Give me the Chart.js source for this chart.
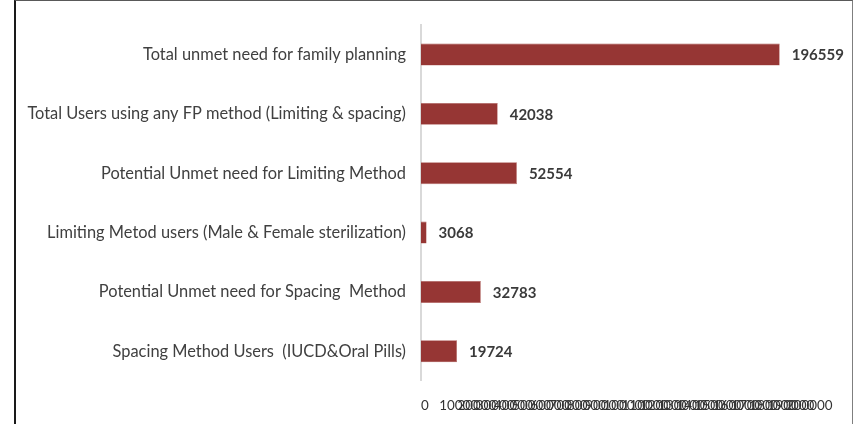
<!DOCTYPE html>
<html>
<head>
<meta charset="utf-8">
<script src="https://cdn.jsdelivr.net/npm/chart.js@4/dist/chart.umd.min.js"></script>
<style>
  html, body { margin: 0; padding: 0; background: #fff; }
  #wrap { position: relative; width: 853px; height: 424px; }
  #frame {
    position: absolute; left: 14px; top: 0; width: 836px; height: 430px;
    border-left: 2px solid #1a1a1a; border-top: 1px solid #595959; border-right: 1px solid #7f7f7f;
  }
  canvas { position: absolute; left: 0; top: 0; }
</style>
</head>
<body>
<div id="wrap">
  <div id="frame"></div>
  <canvas id="chart" width="853" height="424"></canvas>
</div>
<script>
// categories, top to bottom
const categories = [
    "Total unmet need for family planning",
    "Total Users using any FP method (Limiting & spacing)",
    "Potential Unmet need for Limiting Method",
    "Limiting Metod users (Male & Female sterilization)",
    "Potential Unmet need for Spacing  Method",
    "Spacing Method Users  (IUCD&Oral Pills)"
]
const values = [196559, 42038, 52554, 3068, 32783, 19724]
// x tick labels (they overlap in the original, too)
const xTicks = [0, 10000, 20000, 30000, 40000, 50000, 60000, 70000, 80000, 90000, 100000,
    110000, 120000, 130000, 140000, 150000, 160000, 170000, 180000, 190000, 200000]

const barColor = '#963634'
const fontName = 'Lato, "Open Sans", sans-serif'

// draws the bold value next to each bar
const valueLabels = {
    id: 'valueLabels',
    afterDatasetsDraw(chart) {
        const ctx = chart.ctx
        const meta = chart.getDatasetMeta(0)
        ctx.save()
        ctx.font = 'bold 15px ' + fontName
        ctx.fillStyle = '#3a3a3a'
        ctx.textAlign = 'left'
        ctx.textBaseline = 'middle'
        meta.data.forEach((bar, i) => {
            ctx.fillText(String(values[i]), bar.x + 12, bar.y + 1)
        })
        ctx.restore()
    }
}

new Chart(document.getElementById('chart'), {
    type: 'bar',
    data: {
        labels: categories,
        datasets: [{
            data: values,
            backgroundColor: barColor,
            borderColor: '#b0605e',
            borderWidth: 0.6,
            categoryPercentage: 1,
            barPercentage: 0.37
        }]
    },
    options: {
        indexAxis: 'y',
        responsive: false,
        animation: false,
        layout: { padding: { top: 20, right: 67, left: 0, bottom: 0 } },
        plugins: {
            legend: { display: false },
            tooltip: { enabled: false }
        },
        scales: {
            x: {
                min: 0,
                max: 200000,
                afterBuildTicks(scale) {
                    scale.ticks = xTicks.map(v => ({ value: v }))
                },
                afterFit(scale) { scale.height = 43 },
                grid: { display: false, drawTicks: false },
                border: { display: false },
                ticks: {
                    autoSkip: false,
                    maxRotation: 0,
                    minRotation: 0,
                    align: 'start',
                    padding: 17,
                    color: '#333333',
                    font: { family: fontName, size: 13.4 },
                    callback: (v) => String(v)
                }
            },
            y: {
                afterFit(scale) { scale.width = 421 },
                grid: { display: false, drawTicks: false },
                border: { display: true, color: '#d9d9d9', width: 2 },
                ticks: {
                    padding: 15,
                    color: '#404040',
                    font: { family: fontName, size: 16.4 }
                }
            }
        }
    },
    plugins: [valueLabels]
})
</script>
</body>
</html>
